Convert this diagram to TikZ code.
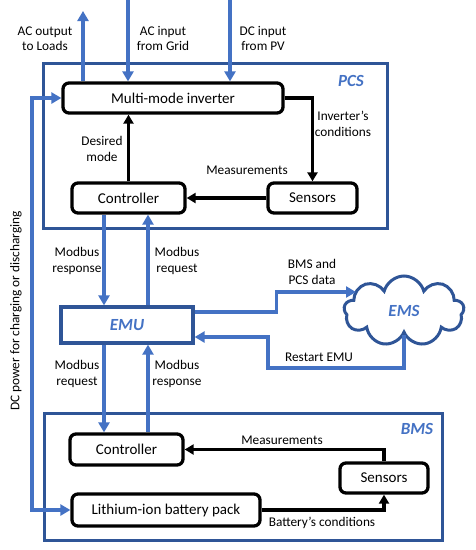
\documentclass[tikz,border=0pt]{standalone}
\usepackage{fontspec}
\setmainfont{Carlito}
\usetikzlibrary{arrows.meta,shapes.symbols}
\definecolor{lblue}{RGB}{68,114,196}
\definecolor{dblue}{RGB}{47,85,151}
\begin{document}
\begin{tikzpicture}[x=1pt,y=-1pt,
 box/.style={draw=black,line width=3.3pt,rounded corners=6pt,font=\fontsize{15}{18}\selectfont,inner sep=0pt},
 frame/.style={draw=dblue,line width=3pt,inner sep=0pt},
 barrow/.style={draw=lblue,line width=3.5pt,-{Triangle[length=10pt,width=11pt]}},
 bdarrow/.style={draw=lblue,line width=3.5pt,{Triangle[length=10pt,width=11pt]}-{Triangle[length=10pt,width=11pt]}},
 karrow/.style={draw=black,line width=3.2pt,-{Triangle[length=9pt,width=10pt]}},
 lbl/.style={font=\fontsize{13.3}{15.5}\selectfont,align=center,inner sep=0pt},
 ttl/.style={font=\fontsize{17}{20}\selectfont\bfseries\itshape,text=lblue,inner sep=0pt}]
\useasboundingbox (0,0) rectangle (475,550);
\fill[white] (0,0) rectangle (475,550);
% frames
\node[frame,minimum width=344pt,minimum height=165pt] (pcs) at (215,145.5) {};
\node[frame,minimum width=398pt,minimum height=127pt] (bms) at (243,476.5) {};
\node[ttl] (pcst) at (351,81) {PCS};
\node[ttl] (bmst) at (417,429) {BMS};
% boxes
\node[box,minimum width=220pt,minimum height=30pt] (inv) at (173,98) {Multi-mode inverter};
\node[box,minimum width=113pt,minimum height=30pt] (pcsctrl) at (128.5,198) {Controller};
\node[box,minimum width=89pt,minimum height=30pt] (pcssen) at (312.5,198) {Sensors};
\node[draw=dblue,line width=3.3pt,minimum width=132pt,minimum height=36pt,ttl] (emu) at (127,325) {EMU};
\node[cloud,draw=dblue,line width=3pt,cloud puffs=9,aspect=1.7,minimum width=120pt,minimum height=70pt,ttl] (ems) at (404,311) {EMS};
\node[box,minimum width=113pt,minimum height=31pt] (bmsctrl) at (126.5,449.5) {Controller};
\node[box,minimum width=88pt,minimum height=30pt] (bmssen) at (384,478) {Sensors};
\node[box,minimum width=188pt,minimum height=32pt] (bat) at (166,510) {Lithium-ion battery pack};
% coordinates
\coordinate (acout) at (83,11);
\coordinate (grid) at (128,0);
\coordinate (pv) at (230,0);
\coordinate (dcl) at (32,0);
\coordinate (ma) at (104,0);
\coordinate (mb) at (148,0);
\coordinate (emsin) at (356,292);
\coordinate (r1) at (268,368);
% top arrows
\draw[barrow] (acout |- inv.north) -- (acout);
\draw[barrow] (grid) -- (grid |- inv.north);
\draw[barrow] (pv) -- (pv |- inv.north);
% DC power line
\draw[bdarrow] (inv.west) -- (dcl |- inv.west) -- (dcl |- bat.west) -- (bat.west);
% PCS internal
\draw[karrow] (inv.east) -| (pcssen.north);
\draw[karrow] (pcsctrl.north) -- (pcsctrl.north |- inv.south);
\draw[karrow] (pcssen.west) -- (pcsctrl.east);
% Modbus
\draw[barrow] (ma |- pcsctrl.south) -- (ma |- emu.north);
\draw[barrow] (mb |- emu.north) -- (mb |- pcsctrl.south);
\draw[barrow] (ma |- emu.south) -- (ma |- bmsctrl.north);
\draw[barrow] (mb |- bmsctrl.north) -- (mb |- emu.south);
% EMS links
\draw[barrow] ([yshift=13pt]emu.east) -- ++(82,0) |- (emsin);
\draw[barrow] (ems.south) |- (r1) |- ([yshift=-12pt]emu.east);
% BMS internal
\draw[karrow] (bmssen.north) |- (bmsctrl.east);
\draw[karrow] (bat.east) -| (bmssen.south);
% labels
\node[lbl] (l1) at (45,38.5) {AC output\\to Loads};
\node[lbl] (l2) at (163,38.5) {AC input\\from Grid};
\node[lbl] (l3) at (263,38.5) {DC input\\from PV};
\node[lbl] (l4) at (343,124) {Inverter’s\\conditions};
\node[lbl] (l5) at (102,149) {Desired\\mode};
\node[lbl] (l6) at (247,170) {Measurements};
\node[lbl] (l7) at (77,261) {Modbus\\response};
\node[lbl] (l8) at (177,261) {Modbus\\request};
\node[lbl] (l9) at (312,272) {BMS and\\PCS data};
\node[lbl] (l10) at (319,357) {Restart EMU};
\node[lbl] (l11) at (77,374) {Modbus\\request};
\node[lbl] (l12) at (177,374) {Modbus\\response};
\node[lbl] (l13) at (282,440) {Measurements};
\node[lbl] (l14) at (322,523) {Battery’s conditions};
\node[lbl,rotate=90] (l15) at (16,311) {DC power for charging or discharging};
\end{tikzpicture}
\end{document}
